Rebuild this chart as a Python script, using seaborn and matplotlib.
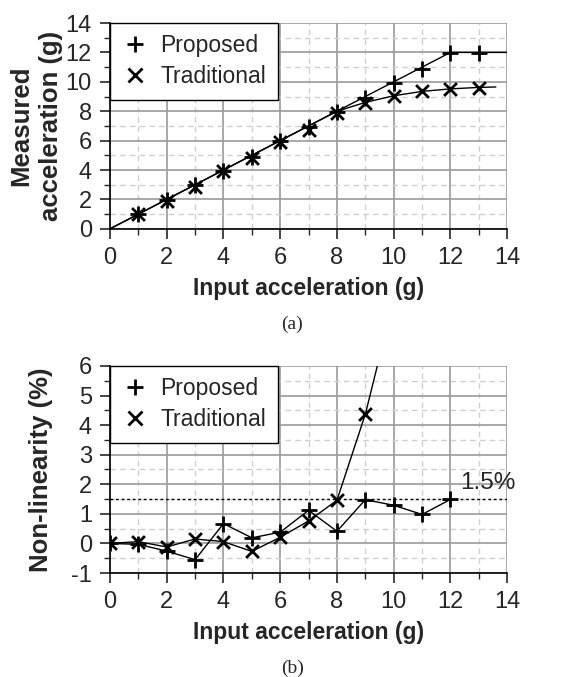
import numpy as np
import pandas as pd
import matplotlib
matplotlib.use("Agg")
import matplotlib.pyplot as plt
from matplotlib.lines import Line2D
from matplotlib.ticker import MultipleLocator
import seaborn as sns

# ---- data ----
# (a) measured vs input acceleration, markers
acc_a = [1, 2, 3, 4, 5, 6, 7, 8, 9, 10, 11, 12, 13]
prop_a = [1.0, 1.95, 2.95, 3.95, 4.9, 5.95, 6.9, 7.95, 8.9, 9.9, 10.9, 11.95, 11.95]
trad_a = [1.0, 1.9, 2.85, 3.9, 4.85, 5.9, 6.75, 7.9, 8.55, 9.05, 9.35, 9.5, 9.6]
# (a) fitted curves
prop_fit_x = [0, 12, 14]
prop_fit_y = [0, 12, 12]
trad_fit_x = [0, 8, 9, 10, 11, 12, 13, 13.6]
trad_fit_y = [0, 8, 8.6, 9.05, 9.35, 9.52, 9.62, 9.65]

# (b) non-linearity (%)
acc_b_prop = [0, 1, 2, 3, 4, 5, 6, 7, 8, 9, 10, 11, 12]
nl_prop = [0.0, -0.03, -0.26, -0.55, 0.67, 0.19, 0.38, 1.12, 0.41, 1.48, 1.29, 0.98, 1.49]
acc_b_trad = [0, 1, 2, 3, 4, 5, 6, 7, 8, 9]
nl_trad = [0.0, 0.06, -0.12, 0.15, 0.06, -0.27, 0.21, 0.76, 1.46, 4.37]
trad_tail_x = [8, 9, 9.5]
trad_tail_y = [1.46, 4.37, 6.3]
limit = 1.5

sns.set_style("white")
plt.rcParams['font.family'] = ['Liberation Sans', 'DejaVu Sans']
plt.rcParams['axes.unicode_minus'] = False

fig = plt.figure(figsize=(5.85, 6.77), dpi=100)
ax1 = fig.add_axes([0.188, 0.662, 0.679, 0.304])
ax2 = fig.add_axes([0.188, 0.1536, 0.679, 0.3058])

MAJ = "#9a9a9a"
MIN = "#cfcfcf"


def style_axes(ax):
    ax.grid(True, which="major", color=MAJ, lw=1.2, ls="-")
    ax.grid(True, which="minor", color=MIN, lw=1.0, ls=(0, (4, 3)))
    ax.set_axisbelow(True)
    for s in ["top", "right"]:
        ax.spines[s].set_visible(False)
    for s in ["left", "bottom"]:
        ax.spines[s].set_color("black")
        ax.spines[s].set_linewidth(1.2)
    ax.tick_params(which="major", direction="out", length=7, width=1.2,
                   labelsize=17, left=True, bottom=True, pad=6)
    ax.tick_params(which="minor", direction="out", length=4, width=1.0,
                   left=True, bottom=True)
    ax.xaxis.set_major_locator(MultipleLocator(2))
    ax.xaxis.set_minor_locator(MultipleLocator(1))
    ax.set_xlim(0, 14)
    ax.set_xlabel("Input acceleration (g)", fontsize=16.5, fontweight="bold",
                  labelpad=6)


# ---- panel (a) ----
sns.lineplot(x=prop_fit_x, y=prop_fit_y, ax=ax1, color="black", lw=1.0,
             sort=False, estimator=None)
sns.lineplot(x=trad_fit_x, y=trad_fit_y, ax=ax1, color="black", lw=1.0,
             sort=False, estimator=None)
sns.scatterplot(x=acc_a, y=prop_a, ax=ax1, marker="+", s=120, color="black",
                linewidth=2)
sns.scatterplot(x=acc_a, y=trad_a, ax=ax1, marker="x", s=85, color="black",
                linewidth=2)
style_axes(ax1)
ax1.set_ylim(0, 14)
ax1.yaxis.set_major_locator(MultipleLocator(2))
ax1.yaxis.set_minor_locator(MultipleLocator(1))
ax1.set_ylabel("Measured\nacceleration (g)", fontsize=18.5, fontweight="bold",
               linespacing=1.3, labelpad=2)

# ---- panel (b) ----
ax2.axhline(limit, color="black", lw=1.0, ls=(0, (2, 2)), zorder=1.5)
sns.lineplot(x=acc_b_prop, y=nl_prop, ax=ax2, color="black", lw=1.0,
             sort=False, estimator=None)
sns.lineplot(x=acc_b_trad[:9], y=nl_trad[:9], ax=ax2, color="black", lw=1.0,
             sort=False, estimator=None)
sns.lineplot(x=trad_tail_x, y=trad_tail_y, ax=ax2, color="black", lw=1.0,
             sort=False, estimator=None)
sns.scatterplot(x=acc_b_prop, y=nl_prop, ax=ax2, marker="+", s=120,
                color="black", linewidth=2)
sns.scatterplot(x=acc_b_trad, y=nl_trad, ax=ax2, marker="x", s=85,
                color="black", linewidth=2)
style_axes(ax2)
ax2.set_ylim(-1, 6)
ax2.yaxis.set_major_locator(MultipleLocator(1))
ax2.yaxis.set_minor_locator(MultipleLocator(0.5))
ax2.set_ylabel("Non-linearity (%)", fontsize=18.5, fontweight="bold",
               labelpad=13)
ax2.text(14.3, 2.05, "1.5%", ha="right", va="center", fontsize=17.5,
         clip_on=False)

# legends
handles = [Line2D([], [], marker="+", ls="none", color="black", ms=12, mew=2),
           Line2D([], [], marker="x", ls="none", color="black", ms=10, mew=2)]
for ax in (ax1, ax2):
    leg = ax.legend(handles, ["Proposed", "Traditional"], loc="upper left",
                    bbox_to_anchor=(0, 1), borderaxespad=0, fontsize=16.5,
                    frameon=True, fancybox=False, handlelength=1.2,
                    handletextpad=0.5, borderpad=0.5, labelspacing=0.35)
    leg.get_frame().set_edgecolor("black")
    leg.get_frame().set_linewidth(1.0)
    leg.get_frame().set_alpha(1)

# captions
fig.text(0.5, 1 - 324 / 677, "(a)", ha="center", va="center", fontsize=14,
         family="Liberation Serif")
fig.text(0.5, 1 - 668 / 677, "(b)", ha="center", va="center", fontsize=14,
         family="Liberation Serif")

fig.savefig("out.png", dpi=100)
